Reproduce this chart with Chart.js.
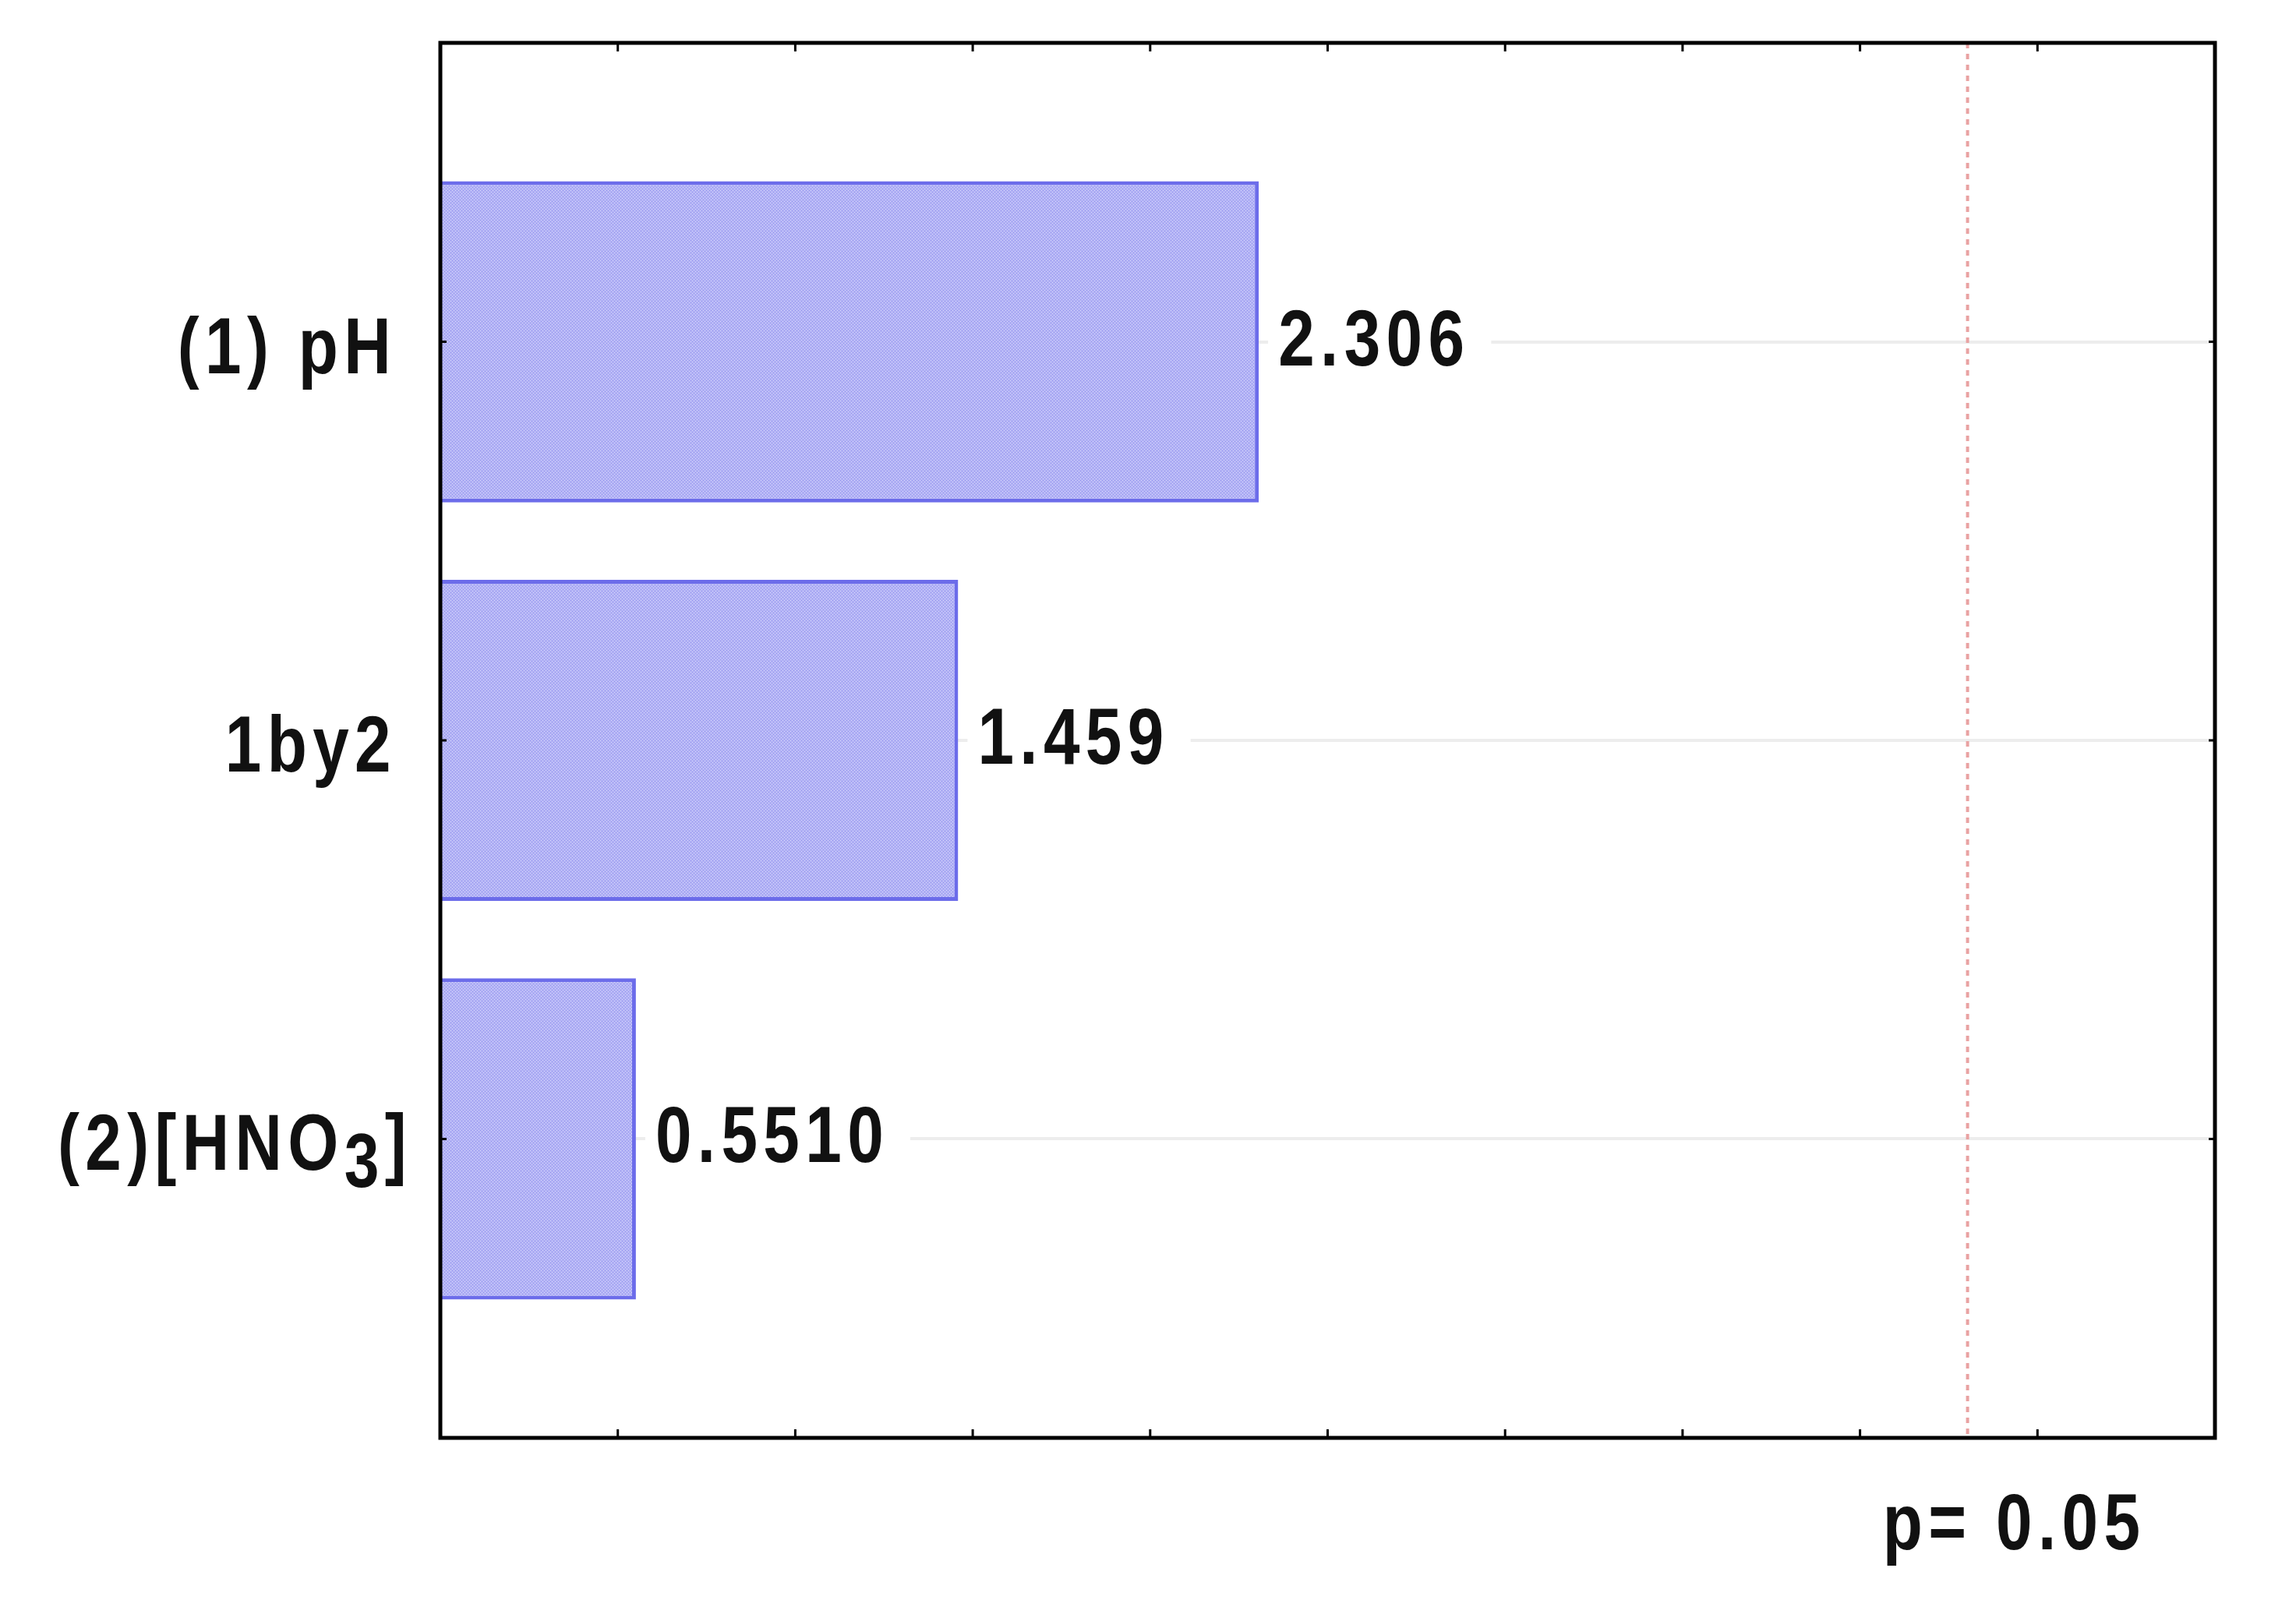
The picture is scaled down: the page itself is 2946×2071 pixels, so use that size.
<!DOCTYPE html>
<html>
<head>
<meta charset="utf-8">
<script src="https://cdn.jsdelivr.net/npm/chart.js@4/dist/chart.umd.min.js"></script>
<style>
  html, body { margin: 0; padding: 0; background: #ffffff; }
  #wrap { width: 2946px; height: 2071px; position: relative; }
</style>
</head>
<body>
<div id="wrap"><canvas id="c"></canvas></div>
<script>
// ---- data ----
const categories = ["(1) pH", "1by2", "(2)[HNO3]"];
const effects = [2.306, 1.459, 0.5510];
const valueLabels = ["2.306", "1.459", "0.5510"];
const pCritical = 4.303;
const pLabel = "p= 0.05";
const xMin = 0, xMax = 5, xStep = 0.5;

const FAMILY = '"Liberation Sans", Arial, sans-serif';
const FONT = 'bold 102px ' + FAMILY;
const SUBFONT = 'bold 98px ' + FAMILY;
const SX = 0.82;          // horizontal condensing (narrow face)
const SPACING = '9px';

// textured fill for bars
function makePattern() {
  const p = document.createElement('canvas');
  p.width = 4; p.height = 4;
  const g = p.getContext('2d');
  g.fillStyle = '#b1b1f5'; g.fillRect(0, 0, 4, 4);
  g.fillStyle = '#d4d4fb';
  g.fillRect(0, 0, 1, 1); g.fillRect(2, 2, 1, 1);
  g.fillStyle = '#a0a0ef';
  g.fillRect(2, 0, 1, 1); g.fillRect(0, 2, 1, 1);
  return g.createPattern(p, 'repeat');
}

function narrowText(ctx, text, x, y, align, font) {
  ctx.save();
  ctx.font = font || FONT;
  ctx.letterSpacing = SPACING;
  ctx.textBaseline = 'alphabetic';
  ctx.textAlign = 'left';
  const w = ctx.measureText(text).width * SX;
  let x0 = x;
  if (align === 'right') x0 = x - w;
  else if (align === 'center') x0 = x - w / 2;
  ctx.translate(x0, y);
  ctx.scale(SX, 1);
  ctx.fillText(text, 0, 0);
  ctx.restore();
  return w;
}
function narrowWidth(ctx, text, font) {
  ctx.save();
  ctx.font = font || FONT;
  ctx.letterSpacing = SPACING;
  const w = ctx.measureText(text).width * SX;
  ctx.restore();
  return w;
}

function drawCategoryLabel(ctx, text, xRight, yBase) {
  ctx.fillStyle = '#111111';
  if (text === "(2)[HNO3]") {
    const a = "(2)[HNO", s = "3", b = "]";
    const wa = narrowWidth(ctx, a), ws = narrowWidth(ctx, s, SUBFONT), wb = narrowWidth(ctx, b);
    let x = xRight + 20 - (wa + ws + wb);
    narrowText(ctx, a, x, yBase, 'left'); x += wa;
    narrowText(ctx, s, x, yBase + 22, 'left', SUBFONT); x += ws;
    narrowText(ctx, b, x, yBase, 'left');
  } else {
    narrowText(ctx, text, xRight, yBase, 'right');
  }
}

const framePlugin = {
  id: 'frame',
  beforeDatasetsDraw(chart) {
    const { ctx, chartArea: a, scales: { x } } = chart;
    const px = x.getPixelForValue(pCritical);
    ctx.save();
    ctx.strokeStyle = '#e9a2a2';
    ctx.lineWidth = 4;
    ctx.setLineDash([7, 7]);
    ctx.beginPath(); ctx.moveTo(px, a.top); ctx.lineTo(px, a.bottom); ctx.stroke();
    ctx.restore();
  },
  afterDatasetsDraw(chart) {
    const { ctx, chartArea: a, scales: { x, y } } = chart;
    const meta = chart.getDatasetMeta(0);
    ctx.save();
    // value labels
    meta.data.forEach((bar, i) => {
      const w = narrowWidth(ctx, valueLabels[i]);
      ctx.fillStyle = '#ffffff';
      ctx.fillRect(bar.x + 12, bar.y - 70, w + 40, 110);
      ctx.fillStyle = '#111111';
      narrowText(ctx, valueLabels[i], bar.x + 25, bar.y + 30, 'left');
    });
    // category labels
    categories.forEach((c, i) => {
      drawCategoryLabel(ctx, c, a.left - 56, y.getPixelForValue(i) + 40);
    });
    // frame
    ctx.strokeStyle = '#000000';
    ctx.lineWidth = 5;
    ctx.strokeRect(a.left, a.top, a.right - a.left, a.bottom - a.top);
    // inward tick marks
    ctx.lineWidth = 3;
    x.ticks.forEach(t => {
      const tx = x.getPixelForValue(t.value);
      ctx.beginPath();
      ctx.moveTo(tx, a.bottom); ctx.lineTo(tx, a.bottom - 11);
      ctx.moveTo(tx, a.top); ctx.lineTo(tx, a.top + 11);
      ctx.stroke();
    });
    y.ticks.forEach(t => {
      const ty = y.getPixelForValue(t.value);
      ctx.beginPath();
      ctx.moveTo(a.left, ty); ctx.lineTo(a.left + 8, ty);
      ctx.moveTo(a.right, ty); ctx.lineTo(a.right - 8, ty);
      ctx.stroke();
    });
    // p = 0.05 label
    ctx.fillStyle = '#111111';
    narrowText(ctx, pLabel, x.getPixelForValue(pCritical) + 60, a.bottom + 143, 'center');
    ctx.restore();
  }
};

const ctx = document.getElementById('c').getContext('2d');
new Chart(ctx, {
  type: 'bar',
  data: {
    datasets: [{
      data: effects.map((v, i) => ({ x: v, y: i })),
      backgroundColor: makePattern(),
      borderColor: '#6c6cea',
      borderWidth: 5,
      borderSkipped: 'start',
      barPercentage: 0.806,
      categoryPercentage: 1.0
    }]
  },
  options: {
    indexAxis: 'y',
    responsive: true,
    maintainAspectRatio: false,
    animation: false,
    devicePixelRatio: 1,
    layout: { padding: { left: 565, right: 104, top: 55, bottom: 226 } },
    plugins: { legend: { display: false }, tooltip: { enabled: false } },
    scales: {
      x: {
        type: 'linear', min: xMin, max: xMax, offset: false,
        ticks: { display: false, stepSize: xStep },
        grid: { display: false, drawTicks: false, offset: false },
        border: { display: false }
      },
      y: {
        type: 'linear', min: -0.75, max: 2.75, reverse: true, offset: false,
        afterBuildTicks: s => { s.ticks = s.ticks.filter(t => Number.isInteger(t.value)); },
        ticks: { display: false, stepSize: 1 },
        grid: { color: '#ededed', lineWidth: 4, drawTicks: false, offset: false },
        border: { display: false }
      }
    }
  },
  plugins: [framePlugin]
});
</script>
</body>
</html>
